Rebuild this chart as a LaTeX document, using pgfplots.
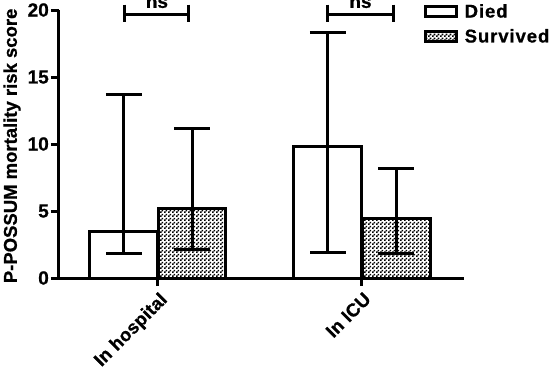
\documentclass[border=0pt]{standalone}
\usepackage{pgfplots}
\pgfplotsset{compat=1.18}
\usepackage{fontspec}
\setmainfont{Liberation Sans}[BoldFeatures={FakeBold=0.8}]
\usetikzlibrary{patterns}
\pgfdeclarepatternformonly{checker}{\pgfpointorigin}{\pgfpoint{4pt}{4pt}}{\pgfpoint{4pt}{4pt}}{%
  \pgfpathrectangle{\pgfpointorigin}{\pgfpoint{2pt}{2pt}}%
  \pgfpathrectangle{\pgfpoint{2pt}{2pt}}{\pgfpoint{2pt}{2pt}}%
  \pgfusepath{fill}}
\begin{document}
\begin{tikzpicture}
\begin{axis}[
  name=ax,
  scale only axis,
  width=405pt, height=268pt,
  xmin=-0.485, xmax=1.5,
  ymin=0, ymax=20,
  clip=false,
  axis x line=bottom, axis y line=left,
  axis line style={line width=3pt, -},
  every tick/.style={line width=3pt, black},
  xtick={0,1},
  xticklabels={In hospital, In ICU},
  ytick={0,5,10,15,20},
  major tick length=8pt,
  tick align=outside,
  x tick label style={rotate=45, anchor=north east, inner sep=0pt, xshift=-3pt, yshift=-4pt,
    font=\bfseries\fontsize{18.5}{18.5}\selectfont\addfontfeature{LetterSpace=1}},
  y tick label style={font=\bfseries\fontsize{19}{19}\selectfont, inner sep=2pt},
  /pgf/number format/assume math mode=true,
  ylabel={P-POSSUM mortality risk score},
  ylabel style={at={(axis description cs:-0.116,0.493)}, anchor=center,
    font=\bfseries\fontsize{18.5}{18.5}\selectfont},
  ybar,
  bar width=0.333,
  error bars/error bar style={line width=3pt, black},
  error bars/error mark options={rotate=90, mark size=18pt, line width=3pt},
  legend style={draw=none, fill=none, at={(rel axis cs:0.9,1.03)}, anchor=north west,
    font=\bfseries\fontsize{18.5}{18.5}\selectfont\addfontfeature{LetterSpace=5}, inner sep=0pt, row sep=6pt,
    nodes={inner xsep=7pt}},
  legend cell align=left,
  legend image code/.code={\draw[#1, line width=3pt] (0pt,-5pt) rectangle (31pt,5pt);},
]
\addplot[bar shift=-0.167, draw=black, line width=3pt, fill=white,
  error bars/.cd, y dir=both, y explicit]
  coordinates {(0,3.5) +=(0,10.2) -=(0,1.7) (1,9.8) +=(0,8.55) -=(0,7.9)};
\addlegendentry{Died}
\addplot[bar shift=0.167, draw=black, line width=3pt, fill=white, postaction={pattern=checker},
  error bars/.cd, y dir=both, y explicit]
  coordinates {(0,5.2) +=(0,5.95) -=(0,3.05) (1,4.45) +=(0,3.75) -=(0,2.6)};
\addlegendentry{Survived}
\draw[line width=3pt] (axis cs:-0.162,20.4) -- (axis cs:-0.162,19.1);
\draw[line width=3pt] (axis cs:0.152,20.4) -- (axis cs:0.152,19.1);
\draw[line width=3pt] (axis cs:-0.162,19.7) -- (axis cs:0.152,19.7);
\node[anchor=base, font=\bfseries\fontsize{19}{19}\selectfont] at (axis cs:-0.005,20.16) {ns};
\draw[line width=3pt] (axis cs:0.833,20.4) -- (axis cs:0.833,19.1);
\draw[line width=3pt] (axis cs:1.152,20.4) -- (axis cs:1.152,19.1);
\draw[line width=3pt] (axis cs:0.833,19.7) -- (axis cs:1.152,19.7);
\node[anchor=base, font=\bfseries\fontsize{19}{19}\selectfont] at (axis cs:0.9925,20.16) {ns};
\end{axis}
\pgfresetboundingbox
\path ([shift={(-59pt,-90pt)}]ax.south west) rectangle ++(551pt,368pt);
\end{tikzpicture}
\end{document}
